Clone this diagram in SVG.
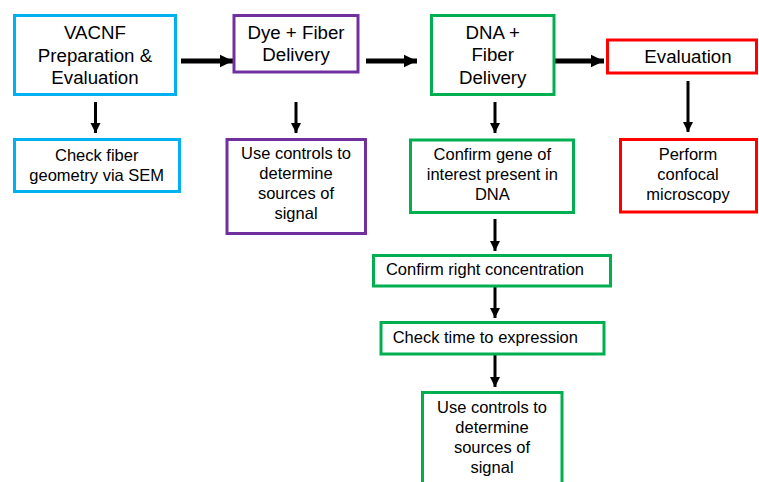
<svg xmlns="http://www.w3.org/2000/svg" width="759" height="482" viewBox="0 0 759 482">
<style>
.box{fill:#fff;stroke-width:3}
.c{stroke:#00B0F0}.p{stroke:#7030A0}.g{stroke:#00B050}.r{stroke:#FF0000}
text{font-family:"Liberation Sans",Arial,sans-serif;fill:#000;text-anchor:middle}
.big{font-size:18.7px}.sm{font-size:16.5px}
.h{stroke:#000;stroke-width:5;fill:none}
.v{stroke:#000;stroke-width:3;fill:none}
</style>
<defs>
<marker id="ah" markerUnits="userSpaceOnUse" markerWidth="14" markerHeight="14" refX="13" refY="7" orient="auto"><path d="M0,0.7 L13,7 L0,13.3 Z" fill="#000"/></marker>
<marker id="av" markerUnits="userSpaceOnUse" markerWidth="11" markerHeight="11" refX="10" refY="5.5" orient="auto"><path d="M0,0.5 L10,5.5 L0,10.5 Z" fill="#000"/></marker>
</defs>
<g id="connectors">
<line class="h" x1="181" y1="61" x2="233" y2="61" marker-end="url(#ah)"/>
<line class="h" x1="366" y1="61" x2="417" y2="61" marker-end="url(#ah)"/>
<line class="h" x1="551" y1="61" x2="604" y2="61" marker-end="url(#ah)"/>
<line class="v" x1="95.5" y1="102" x2="95.5" y2="133" marker-end="url(#av)"/>
<line class="v" x1="296" y1="102" x2="296" y2="133" marker-end="url(#av)"/>
<line class="v" x1="495" y1="102" x2="495" y2="133" marker-end="url(#av)"/>
<line class="v" x1="688" y1="81" x2="688" y2="132" marker-end="url(#av)"/>
<line class="v" x1="495" y1="219" x2="495" y2="251" marker-end="url(#av)"/>
<line class="v" x1="495" y1="287" x2="495" y2="318" marker-end="url(#av)"/>
<line class="v" x1="495" y1="355" x2="495" y2="387" marker-end="url(#av)"/>
</g>
<g id="vacnf"><rect class="box c" x="14.5" y="15.5" width="161" height="79"/>
<text class="big" x="95" y="38.7">VACNF</text><text class="big" x="95" y="61.5">Preparation &amp;</text><text class="big" x="95" y="84">Evaluation</text></g>
<g id="dye"><rect class="box p" x="234" y="15.5" width="124" height="56.5"/>
<text class="big" x="296" y="38.5">Dye + Fiber</text><text class="big" x="296" y="61">Delivery</text></g>
<g id="dna"><rect class="box g" x="431.5" y="15.5" width="122.5" height="79"/>
<text class="big" x="492.7" y="38.7">DNA +</text><text class="big" x="492.7" y="61.3">Fiber</text><text class="big" x="492.7" y="84">Delivery</text></g>
<g id="eval"><rect class="box r" x="607.5" y="40" width="149" height="33"/>
<text class="big" x="688" y="62.7">Evaluation</text></g>
<g id="checkfiber"><rect class="box c" x="14.5" y="139.5" width="165" height="52"/>
<text class="sm" x="96.7" y="160.7">Check fiber</text><text class="sm" x="96.7" y="181">geometry via SEM</text></g>
<g id="controls1"><rect class="box p" x="227" y="139.5" width="138.5" height="94"/>
<text class="sm" x="296" y="159.3">Use controls to</text><text class="sm" x="296" y="179.3">determine</text><text class="sm" x="296" y="199.3">sources of</text><text class="sm" x="296" y="219.3">signal</text></g>
<g id="gene"><rect class="box g" x="410.5" y="140" width="163" height="72.5"/>
<text class="sm" x="492.3" y="159.7">Confirm gene of</text><text class="sm" x="492.3" y="180">interest present in</text><text class="sm" x="492.3" y="199.5">DNA</text></g>
<g id="confocal"><rect class="box r" x="620.5" y="139.5" width="136" height="72.5"/>
<text class="sm" x="688" y="159.7">Perform</text><text class="sm" x="688" y="180">confocal</text><text class="sm" x="688" y="200">microscopy</text></g>
<g id="concentration"><rect class="box g" x="373.5" y="255.5" width="237" height="30.5"/>
<text class="sm" x="485" y="275">Confirm right concentration</text></g>
<g id="time"><rect class="box g" x="381" y="322.5" width="223" height="31.5"/>
<text class="sm" x="485.3" y="342.7">Check time to expression</text></g>
<g id="controls2"><rect class="box g" x="422.5" y="392.5" width="139.5" height="100"/>
<text class="sm" x="492" y="412.7">Use controls to</text><text class="sm" x="492" y="433.3">determine</text><text class="sm" x="492" y="453.3">sources of</text><text class="sm" x="492" y="473.3">signal</text></g>
</svg>
